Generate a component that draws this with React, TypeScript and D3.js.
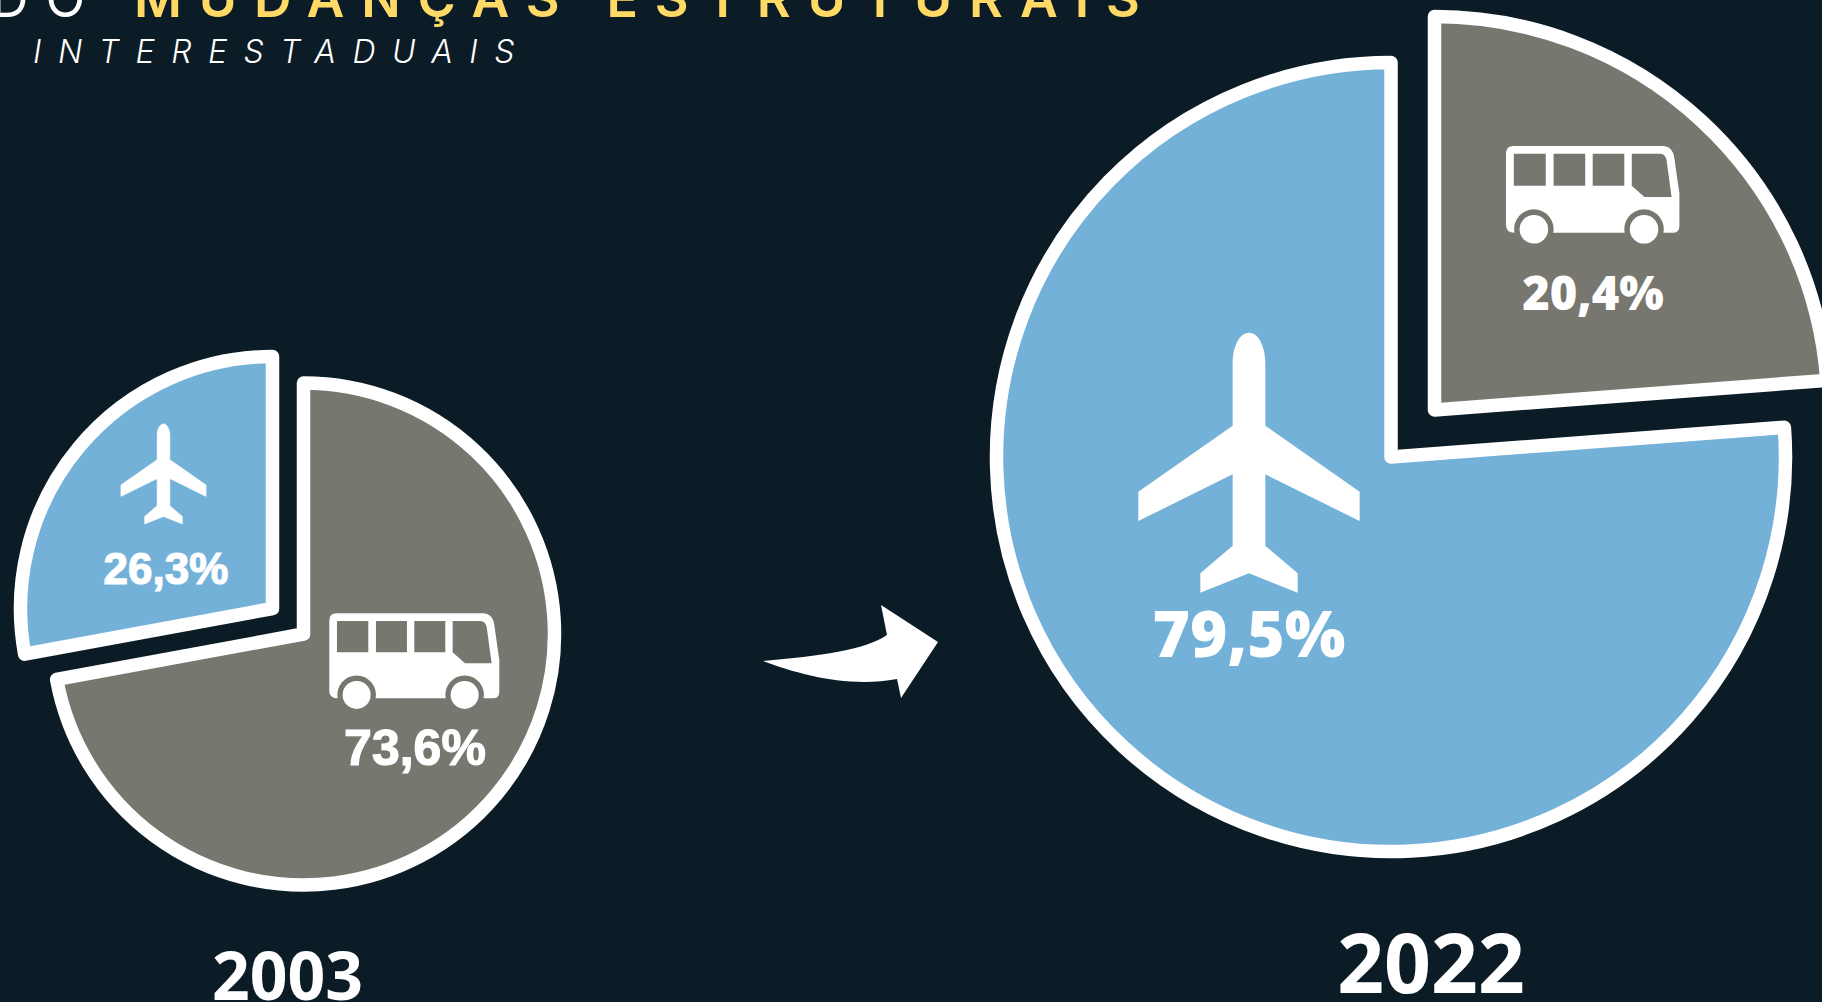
import React from "react";
import * as d3 from "d3";

const years = ["2003", "2022"];
const yearSizes = [66, 82];

// what the printed labels say
const busLabels = [73.6, 20.4];
const planeLabels = [26.3, 79.5];

// the wedges in the picture do not quite follow the labels, these are read off the angles
const busDrawn = [72.1, 23.8];
const planeDrawn = [27.9, 76.2];

const BG = "#0c1c27";
const BUS = "#78776f";
const PLANE = "#74b1d9";
const GOLD = "#ffd965";

const pct = (v: number) => v.toFixed(1).replace(".", ",") + "%";

// icon outlines, 3 units = 1px on the small bus
const busPath =
  "M22,0 H460 Q490,0 495,35 L510,140 V235 Q510,255 490,255 H463 A58,58 0 1 0 349,255 H139 A58,58 0 1 0 25,255 Q0,255 0,232 V22 Q0,0 22,0 Z " +
  "M23,23 V117 H117 V23 Z M140,23 V117 H233 V23 Z M255,23 V117 H348 V23 Z " +
  "M370,23 V117 L407,150 H487 L472,40 Q468,23 452,23 Z";

const planePath =
  "M0,0 C30,0 49,45 49,90 V279 L332,477 V565 L49,425 V639 L146,722 V780 L0,722 L-146,780 V722 L-49,639 V425 L-332,565 V477 L-49,279 V90 C-49,45 -30,0 0,0 Z";

const arrowPath =
  "M763,661 C820,656 865,650 887,635 L881,605 L938,642 L901,698 L897,679 C850,688 800,675 763,661 Z";

const Bus = ({ x, y, k }: { x: number; y: number; k: number }) => (
  <g transform={`translate(${x},${y}) scale(${k})`} fill="#fff">
    <path d={busPath} fillRule="evenodd" />
    <circle cx={82} cy={245} r={42} />
    <circle cx={406} cy={245} r={42} />
  </g>
);

const Plane = ({ x, y, k, thicken = 0 }: { x: number; y: number; k: number; thicken?: number }) => (
  <path
    transform={`translate(${x},${y}) scale(${k})`}
    d={planePath}
    fill="#fff"
    stroke="#fff"
    strokeWidth={thicken}
  />
);

const Wedge = ({ cx, cy, r, d, fill }: { cx: number; cy: number; r: number; d: d3.PieArcDatum<number>; fill: string }) => {
  const arc = d3.arc<d3.PieArcDatum<number>>().innerRadius(0).outerRadius(r);
  return (
    <path
      transform={`translate(${cx},${cy})`}
      d={arc(d) || ""}
      fill={fill}
      stroke="#fff"
      strokeWidth={13.5}
      strokeLinejoin="round"
    />
  );
};

const pie = d3.pie<number>().sort(null);

export default function App() {
  const pie2003 = pie([busDrawn[0], planeDrawn[0]]);
  const pie2022 = pie([busDrawn[1], planeDrawn[1]]);
  const sans = "'Open Sans', sans-serif";
  const inter = "Inter, sans-serif";
  const arial = "'Liberation Sans', sans-serif";

  return (
    <svg width={1822} height={1002} style={{ position: "fixed", left: 0, top: 0, background: BG }}>
      <text x={-9} y={17} fontFamily={inter} fontSize={52} fontWeight={400} letterSpacing={17} fill="#fff">
        DO
      </text>
      <text x={134} y={17} fontFamily={inter} fontSize={52} fontWeight={600} letterSpacing={16.9} fill={GOLD}>
        MUDANÇAS ESTRUTURAIS
      </text>
      <text x={33} y={63} fontFamily={inter} fontSize={32} fontWeight={300} fontStyle="italic" letterSpacing={16.5} fill="#fff">
        INTERESTADUAIS
      </text>

      <Wedge cx={303.5} cy={634} r={251} d={pie2003[0]} fill={BUS} />
      <Wedge cx={272.5} cy={608.5} r={252} d={pie2003[1]} fill={PLANE} />
      <Wedge cx={1434.5} cy={410} r={393.5} d={pie2022[0]} fill={BUS} />
      <Wedge cx={1391} cy={457} r={394.5} d={pie2022[1]} fill={PLANE} />

      <Plane x={163.5} y={424} k={0.128} thicken={6} />
      <Bus x={329.3} y={613.3} k={1 / 3} />
      <Plane x={1249} y={332.7} k={1 / 3} />
      <Bus x={1506} y={146} k={0.34} />

      <text x={166} y={584} textAnchor="middle" fontFamily={arial} fontWeight={700} fontSize={44} fill="#fff" stroke="#fff" strokeWidth={1.2}>
        {pct(planeLabels[0])}
      </text>
      <text x={415} y={765} textAnchor="middle" fontFamily={arial} fontWeight={700} fontSize={50} fill="#fff" stroke="#fff" strokeWidth={1.2}>
        {pct(busLabels[0])}
      </text>
      <text x={1593} y={310} textAnchor="middle" fontFamily={sans} fontWeight={800} fontSize={47} fill="#fff">
        {pct(busLabels[1])}
      </text>
      <text x={1249} y={657} textAnchor="middle" fontFamily={sans} fontWeight={800} fontSize={64} fill="#fff">
        {pct(planeLabels[1])}
      </text>

      <path d={arrowPath} fill="#fff" />

      <text x={287.5} y={1000} textAnchor="middle" fontFamily={sans} fontWeight={700} fontSize={yearSizes[0]} fill="#fff">
        {years[0]}
      </text>
      <text x={1431} y={993} textAnchor="middle" fontFamily={sans} fontWeight={700} fontSize={yearSizes[1]} fill="#fff">
        {years[1]}
      </text>
    </svg>
  );
}
